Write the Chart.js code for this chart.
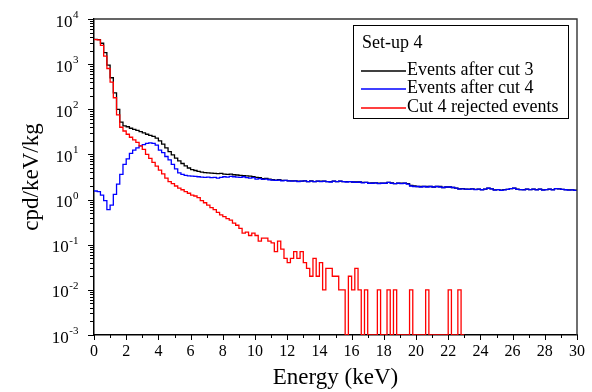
<!DOCTYPE html>
<html><head><meta charset="utf-8">
<script src="https://cdn.jsdelivr.net/npm/chart.js@4"></script>
<style>html,body{margin:0;padding:0;background:#fff;} canvas{display:block;}</style>
</head><body>
<canvas id="c" width="592" height="392"></canvas>
<script>
// ---- data ----
const binWidth = 0.2; // keV per histogram bin, bins start at 0 keV
const seriesLabels = ['Events after cut 3', 'Events after cut 4', 'Cut 4 rejected events'];
const legendTitle = 'Set-up 4';
const xTitle = 'Energy (keV)';
const yTitle = 'cpd/keV/kg';
const yDecades = [-3, -2, -1, 0, 1, 2, 3, 4];

const afterCut3 = [
  3550, 3500, 2900, 1800, 950, 500, 230, 100, 52, 43,
  41, 38, 36, 34, 32, 30, 28, 26.5, 25, 23,
  20, 17, 14, 11.5, 9.8, 8.3, 7.2, 6.3, 5.6, 5.0,
  4.6, 4.4, 4.2, 4.05, 3.95, 3.9, 3.85, 3.8, 3.75, 3.8,
  3.65, 3.6, 3.65, 3.55, 3.5, 3.45, 3.4, 3.35, 3.3, 3.2,
  3.1, 3.05, 2.9, 2.95, 2.85, 2.75, 2.7, 2.75, 2.65, 2.65,
  2.6, 2.6, 2.6, 2.55, 2.55, 2.6, 2.5, 2.6, 2.5, 2.55,
  2.55, 2.55, 2.5, 2.5, 2.55, 2.5, 2.55, 2.5, 2.5, 2.5,
  2.45, 2.45, 2.45, 2.4, 2.4, 2.3, 2.35, 2.35, 2.3, 2.3,
  2.3, 2.4, 2.35, 2.25, 2.3, 2.3, 2.3, 2.25, 2.05, 2.0,
  1.95, 1.95, 1.95, 1.95, 1.95, 1.9, 1.95, 1.95, 1.85, 1.9,
  1.9, 1.85, 1.8, 1.72, 1.75, 1.7, 1.7, 1.72, 1.68, 1.7,
  1.66, 1.7, 1.78, 1.72, 1.64, 1.66, 1.62, 1.66, 1.68, 1.75,
  1.78, 1.7, 1.66, 1.66, 1.7, 1.66, 1.7, 1.66, 1.7, 1.64,
  1.66, 1.7, 1.66, 1.75, 1.72, 1.68, 1.66, 1.64, 1.64, 1.62
];
const afterCut4 = [
  1.55, 1.5, 1.25, 0.95, 0.6, 0.75, 1.3, 2.2, 3.6, 6.0,
  8.0, 10.5, 12.5, 14, 15.5, 16.5, 17.5, 18, 17.5, 16,
  12.5, 11, 9, 7.6, 6.0, 4.8, 3.9, 3.6, 3.45, 3.35,
  3.3, 3.25, 3.2, 3.15, 3.1, 3.15, 3.05, 3.1, 3.0, 3.1,
  3.2, 3.15, 3.25, 3.2, 3.15, 3.1, 3.2, 3.05, 3.0, 3.05,
  2.85, 2.9, 2.8, 2.85, 2.75, 2.7, 2.65, 2.7, 2.6, 2.65,
  2.6, 2.55, 2.6, 2.5, 2.55, 2.6, 2.5, 2.55, 2.5, 2.55,
  2.5, 2.55, 2.5, 2.45, 2.55, 2.5, 2.55, 2.5, 2.45, 2.5,
  2.45, 2.4, 2.45, 2.35, 2.4, 2.3, 2.3, 2.35, 2.25, 2.3,
  2.3, 2.4, 2.3, 2.25, 2.3, 2.25, 2.3, 2.2, 2.0, 1.95,
  1.95, 1.9, 1.95, 1.9, 1.95, 1.9, 1.95, 1.9, 1.85, 1.9,
  1.9, 1.85, 1.8, 1.7, 1.72, 1.7, 1.68, 1.72, 1.66, 1.7,
  1.65, 1.7, 1.78, 1.72, 1.62, 1.66, 1.6, 1.64, 1.68, 1.75,
  1.78, 1.68, 1.66, 1.64, 1.7, 1.66, 1.7, 1.64, 1.7, 1.62,
  1.66, 1.7, 1.64, 1.75, 1.72, 1.68, 1.65, 1.62, 1.64, 1.6
];
const rejectedCut4 = [
  3500, 3450, 2600, 1500, 800, 400, 180, 75, 40, 33,
  28, 24, 21, 18.5, 15.5, 13, 10, 8.2, 6.7, 5.5,
  4.5, 3.7, 3.0, 2.5, 2.25, 2.0, 1.8, 1.65, 1.5, 1.38,
  1.26, 1.2, 1.1, 0.95, 0.85, 0.75, 0.66, 0.6, 0.52, 0.46,
  0.42, 0.38, 0.35, 0.3, 0.27, 0.23, 0.18, 0.19, 0.16, 0.18,
  0.16, 0.12, 0.14, 0.14, 0.12, 0.11, 0.07, 0.12, 0.08, 0.05,
  0.04, 0.05, 0.07, 0.05, 0.07, 0.04, 0.03, 0.02, 0.05, 0.02,
  0.04, 0.01, 0.03, 0.03, 0.02, 0.02, 0.01, 0.01, 0, 0.02,
  0.01, 0.03, 0.01, 0, 0.01, 0, 0, 0, 0.01, 0,
  0, 0.01, 0, 0.01, 0, 0, 0, 0, 0.01, 0,
  0, 0, 0, 0.01, 0, 0, 0, 0, 0, 0,
  0.01, 0, 0, 0.01, 0
];

// zero-count bins are drawn on the axis floor (log scale minimum)
const FLOOR = 1e-3;
function toSteps(values) {
  const pts = values.map((v, i) => ({x: +(i * binWidth).toFixed(3), y: v > 0 ? v : FLOOR}));
  const last = values[values.length - 1];
  pts.push({x: +(values.length * binWidth).toFixed(3), y: last > 0 ? last : FLOOR});
  return pts;
}

const serif = '"Liberation Serif", "Times New Roman", serif';
const colors = ['#000000', '#0000ff', '#ff0000'];

const decor = {
  id: 'decor',
  afterDraw(chart) {
    const {ctx, chartArea: a, scales: {x, y}} = chart;
    ctx.save();
    // top and right frame
    ctx.strokeStyle = '#333'; ctx.lineWidth = 1.4;
    ctx.beginPath(); ctx.moveTo(a.left, a.top); ctx.lineTo(a.right, a.top); ctx.lineTo(a.right, a.bottom); ctx.stroke();
    // x tick marks
    ctx.strokeStyle = '#000'; ctx.lineWidth = 1;
    for (let v = x.min; v <= x.max; v++) {
      const px = Math.round(x.getPixelForValue(v)) + 0.5;
      const len = v % 2 === 0 ? 5 : 3;
      ctx.beginPath(); ctx.moveTo(px, a.bottom); ctx.lineTo(px, a.bottom + len); ctx.stroke();
    }
    // y tick marks and labels
    yDecades.forEach(e => {
      const py = y.getPixelForValue(Math.pow(10, e));
      ctx.strokeStyle = '#000'; ctx.lineWidth = 1;
      ctx.beginPath(); ctx.moveTo(a.left - 6, Math.round(py) + 0.5); ctx.lineTo(a.left, Math.round(py) + 0.5); ctx.stroke();
      if (e < yDecades[yDecades.length - 1]) {
        for (let m = 2; m <= 9; m++) {
          const pm = Math.round(y.getPixelForValue(m * Math.pow(10, e))) + 0.5;
          ctx.beginPath(); ctx.moveTo(a.left - 4, pm); ctx.lineTo(a.left, pm); ctx.stroke();
        }
      }
      const exp = e < 0 ? '-' + (-e) : String(e);
      ctx.fillStyle = '#000';
      ctx.textBaseline = 'alphabetic';
      ctx.font = '11px ' + serif;
      const ew = ctx.measureText(exp).width;
      const right = 78.5;
      ctx.textAlign = 'left';
      ctx.fillText(exp, right - ew, py - 1);
      ctx.font = '17px ' + serif;
      ctx.textAlign = 'right';
      ctx.fillText('10', right - ew - 0.5, py + 7.5);
    });
    // legend box
    const bx = 353, by = 25, bw = 215, bh = 93;
    ctx.strokeStyle = '#000'; ctx.lineWidth = 1;
    ctx.strokeRect(bx + 0.5, by + 0.5, bw, bh);
    ctx.fillStyle = '#000';
    ctx.font = '18px ' + serif;
    ctx.textAlign = 'left'; ctx.textBaseline = 'middle';
    ctx.fillText(legendTitle, 362, 43);
    const rowsY = [71, 89, 108];
    chart.data.datasets.forEach((ds, i) => {
      const ry = rowsY[i];
      ctx.strokeStyle = colors[i]; ctx.lineWidth = 1.3;
      ctx.beginPath(); ctx.moveTo(361, ry); ctx.lineTo(406, ry); ctx.stroke();
      ctx.fillStyle = '#000';
      ctx.fillText(ds.label, 407, ry - 0.5);
    });
    ctx.restore();
  }
};

new Chart(document.getElementById('c'), {
  type: 'line',
  data: {
    datasets: [
      {label: seriesLabels[0], data: toSteps(afterCut3), borderColor: colors[0], order: 2},
      {label: seriesLabels[1], data: toSteps(afterCut4), borderColor: colors[1], order: 1},
      {label: seriesLabels[2], data: toSteps(rejectedCut4), borderColor: colors[2], order: 0}
    ].map(d => Object.assign(d, {stepped: true, borderWidth: 1.3, pointRadius: 0, fill: false, tension: 0}))
  },
  options: {
    responsive: false,
    animation: false,
    devicePixelRatio: 1,
    layout: {padding: {top: 19, right: 12, left: 0, bottom: 0}},
    plugins: {legend: {display: false}, tooltip: {enabled: false}},
    scales: {
      x: {
        type: 'linear', min: 0, max: 30, position: 'bottom',
        grid: {display: false, drawTicks: false, tickLength: 0},
        border: {display: true, color: '#000', width: 1.5},
        ticks: {stepSize: 2, autoSkip: false, maxRotation: 0, padding: 7, color: '#000', font: {family: serif, size: 16}},
        title: {display: true, text: xTitle, color: '#000', font: {family: serif, size: 23}, padding: {top: 0, bottom: 0}},
        afterFit(s) { s.height = 57; }
      },
      y: {
        type: 'logarithmic', min: 1e-3, max: 1e4, position: 'left',
        grid: {display: false, drawTicks: false, tickLength: 0},
        border: {display: true, color: '#000', width: 1.5},
        ticks: {display: false},
        title: {display: true, text: yTitle, color: '#000', font: {family: serif, size: 23}, padding: {top: 18, bottom: 0}},
        afterFit(s) { s.width = 94; }
      }
    }
  },
  plugins: [decor]
});
</script>
</body></html>
